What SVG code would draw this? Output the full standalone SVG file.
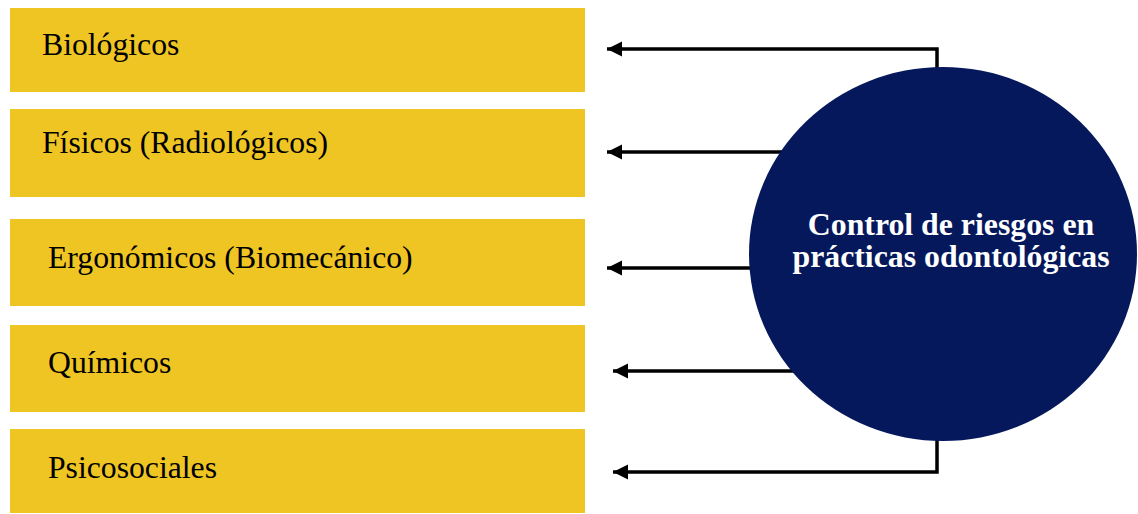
<svg xmlns="http://www.w3.org/2000/svg" width="1138" height="514" viewBox="0 0 1138 514">
<style>
.box{fill:#EFC524}
.lbl{font-family:"Liberation Serif","Times New Roman",serif;font-size:31.7px;fill:#000}
.ctr{font-family:"Liberation Serif","Times New Roman",serif;font-size:31.8px;font-weight:bold;fill:#fff;text-anchor:middle}
.conn{fill:none;stroke:#000;stroke-width:3.5}
</style>
<defs>
<marker id="ah" markerUnits="userSpaceOnUse" markerWidth="16" markerHeight="16" refX="15" refY="8" orient="auto">
<path d="M0,0.5 L15,8 L0,15.5 Z" fill="#000"/>
</marker>
</defs>
<rect width="1138" height="514" fill="#fff"/>
<g id="connectors">
<path class="conn" d="M937,70 V49 H607" marker-end="url(#ah)"/>
<path class="conn" d="M850,152 H607" marker-end="url(#ah)"/>
<path class="conn" d="M850,268 H607" marker-end="url(#ah)"/>
<path class="conn" d="M850,371 H613" marker-end="url(#ah)"/>
<path class="conn" d="M937,438 V472 H613" marker-end="url(#ah)"/>
</g>
<g id="n1"><rect class="box" x="10" y="8" width="575" height="84"/><text class="lbl" x="42" y="55">Biológicos</text></g>
<g id="n2"><rect class="box" x="10" y="109" width="575" height="88"/><text class="lbl" x="42" y="153">Físicos (Radiológicos)</text></g>
<g id="n3"><rect class="box" x="10" y="219" width="575" height="87"/><text class="lbl" x="48" y="268">Ergonómicos (Biomecánico)</text></g>
<g id="n4"><rect class="box" x="10" y="325" width="575" height="87"/><text class="lbl" x="48" y="373">Químicos</text></g>
<g id="n5"><rect class="box" x="10" y="429" width="575" height="84"/><text class="lbl" x="48" y="478">Psicosociales</text></g>
<g id="center"><ellipse cx="943" cy="254" rx="194" ry="187" fill="#05185C"/>
<text class="ctr" x="951" y="235">Control de riesgos en</text>
<text class="ctr" x="951" y="267">prácticas odontológicas</text></g>
</svg>
